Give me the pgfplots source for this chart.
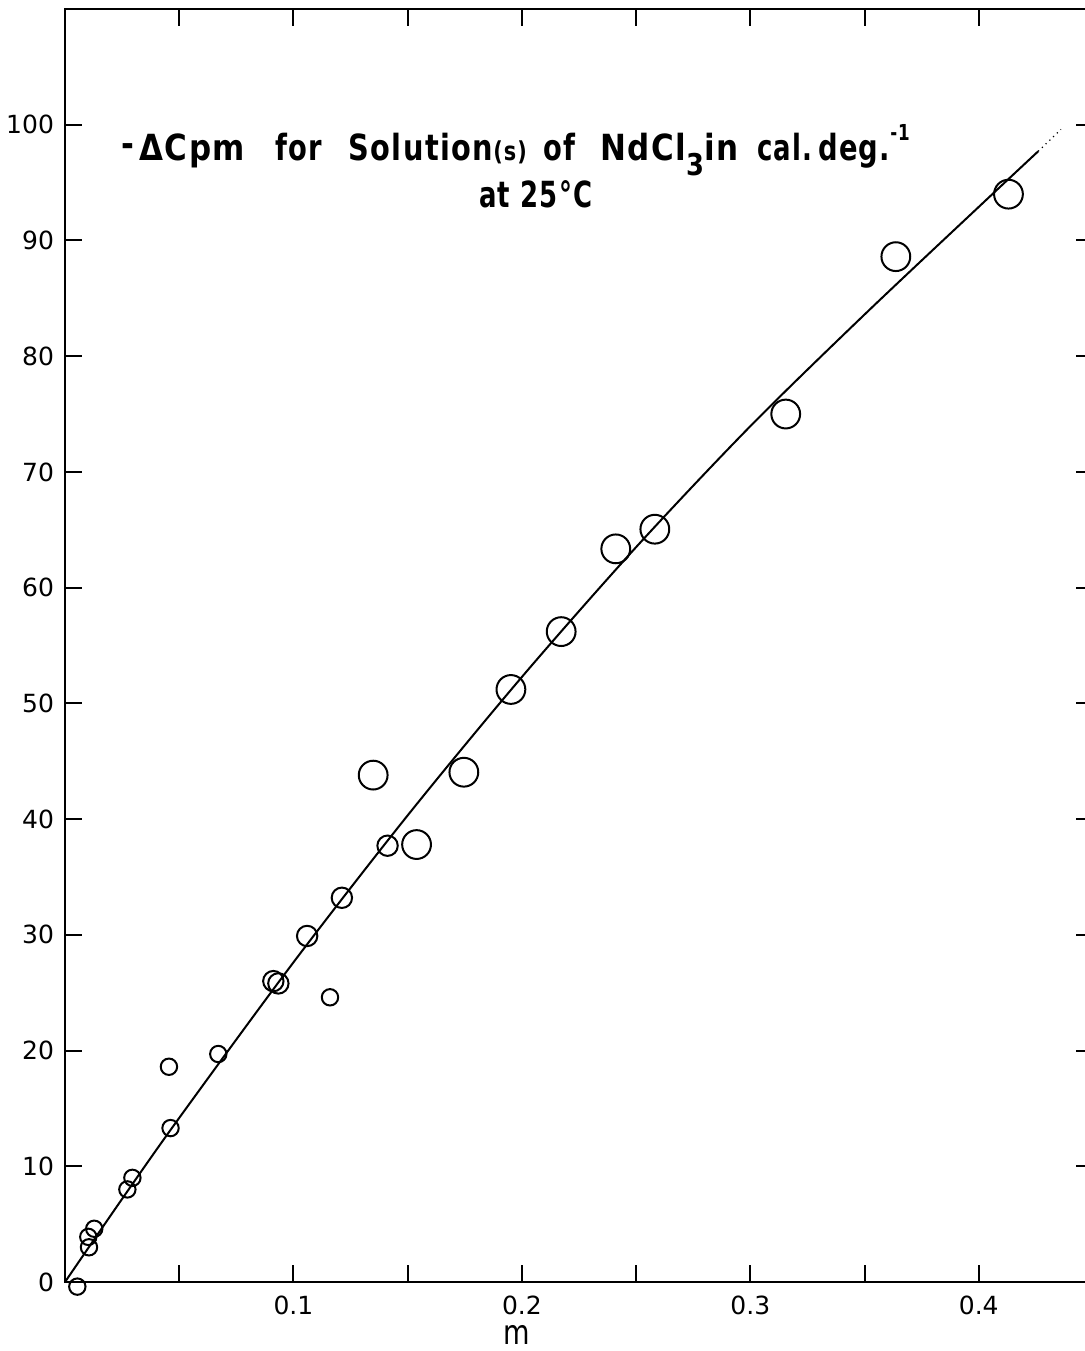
\documentclass[border=0pt]{standalone}
\usepackage{graphicx}
\usepackage{pgfplots}
\pgfplotsset{compat=1.18}
\usepackage{fontspec}
\setmainfont{DejaVu Sans}
\newfontfamily\titlefont[LetterSpace=5]{DejaVu Sans}
\newcommand\narrowtxt[2][0.76]{\scalebox{#1}[1]{#2}}
\begin{document}
\begin{tikzpicture}
\begin{axis}[
  at={(0,0)}, anchor=south west,
  scale only axis, width=514pt, height=636.5pt,
  xmin=0, xmax=0.45, ymin=0, ymax=110,
  xtick={0.1,0.2,0.3,0.4}, xticklabels={0.1,0.2,0.3,0.4},
  minor xtick={0.05,0.15,0.25,0.35},
  ytick={0,10,20,30,40,50,60,70,80,90,100},
  major tick length=8.5pt, minor tick length=8.5pt,
  tick style={line width=1pt, black},
  axis line style={line width=1.3pt},
  ticklabel style={font=\fontsize{12.5}{14}\selectfont},
  xticklabel style={anchor=center, yshift=-11.5pt},
  yticklabel style={xshift=-2pt},
  /pgf/number format/assume math mode=true,
  xlabel={\scalebox{0.8}[1]{m}},
  xlabel style={font=\fontsize{17}{19}\selectfont, at={(axis description cs:0.4397,0)}, anchor=center, yshift=-26.5pt},
  clip=false,
]
% fitted curve
\addplot[line width=1pt, smooth, black] coordinates {
  (0,0) (0.025,7.18) (0.05,14.18) (0.1,27.62) (0.15,40.32) (0.2,52.28)
  (0.25,63.5) (0.3,73.95) (0.35,83.6) (0.4,92.9) (0.426,97.7)
};
\addplot[line width=0.6pt, dotted, black] coordinates {(0.426,97.7) (0.436,99.6)};
% small circles
\addplot[only marks, mark=o, mark size=4.1pt, mark options={line width=1pt, black}] coordinates {
  (0.0054,-0.4) (0.0102,3.9) (0.0105,3.0) (0.0128,4.6) (0.0273,8.0) (0.0295,9.0)
  (0.0455,18.6) (0.0462,13.3) (0.0671,19.7) (0.116,24.6)
};
% medium circles
\addplot[only marks, mark=o, mark size=5.1pt, mark options={line width=1pt, black}] coordinates {
  (0.0912,26.0) (0.0934,25.8) (0.106,29.9) (0.1212,33.2) (0.1412,37.7)
};
% large circles
\addplot[only marks, mark=o, mark size=7.2pt, mark options={line width=1pt, black}] coordinates {
  (0.1349,43.8) (0.1539,37.8) (0.1746,44.05) (0.1952,51.2) (0.2172,56.2)
  (0.2411,63.35) (0.2582,65.05) (0.3155,75.0) (0.3637,88.6) (0.413,94.0)
};
\begin{scope}[every node/.style={font=\titlefont\bfseries\fontsize{18}{20}\selectfont, anchor=base west, inner sep=0pt}]
\node at (axis cs:0.0245,96.89) {\narrowtxt[0.86]{\raisebox{2pt}{-}\,ΔCpm}};
\node at (axis cs:0.0919,96.89) {\narrowtxt{for}};
\node at (axis cs:0.1239,96.89) {\narrowtxt[0.8]{Solution{\fontsize{13}{15}\selectfont(s)}}};
\node at (axis cs:0.2092,96.89) {\narrowtxt{of}};
\node at (axis cs:0.2341,96.89) {\narrowtxt[0.86]{NdCl\raisebox{-0.42em}{\fontsize{15}{17}\selectfont 3}in}};
\node at (axis cs:0.3028,96.89) {\narrowtxt[0.72]{cal.}};
\node at (axis cs:0.3295,96.89) {\narrowtxt{deg.\raisebox{0.55em}{\fontsize{11}{12}\selectfont -1}}};
\node[anchor=base] at (axis cs:0.2061,92.83) {\narrowtxt[0.72]{at 25°C}};
\end{scope}
\end{axis}
\pgfresetboundingbox
\path[use as bounding box] (-32.5pt,-34.5pt) rectangle (509.5pt,641pt);
\end{tikzpicture}
\end{document}
